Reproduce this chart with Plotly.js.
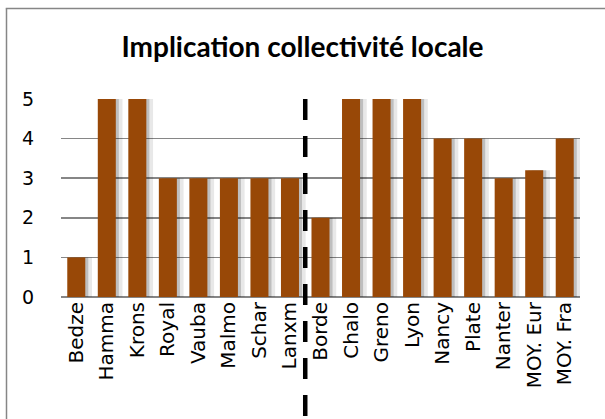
<!DOCTYPE html>
<html>
<head>
<meta charset="utf-8">
<script src="https://cdn.plot.ly/plotly-3.0.1.min.js"></script>
<style>html,body{margin:0;padding:0;background:#fff;} #chart{width:605px;height:419px;} text{font-variant-ligatures:none;}</style>
</head>
<body>
<div id="chart"></div>
<script>
const categories = ["Bedze","Hamma","Krons","Royal","Vauba","Malmo","Schar","Lanxm","Borde","Chalo","Greno","Lyon","Nancy","Plate","Nanter","MOY. Eur","MOY. Fra"];
const values = [1,5,5,3,3,3,3,3,2,5,5,5,4,4,3,3.2,4];
const yTicks = [0,1,2,3,4,5];
const chartTitle = "Implication collectivité locale";
const separatorAfter = "Lanxm";

const barW = 0.59;
const shadow1 = {type:'bar', x:categories, y:values, width:barW, offset:-barW/2+0.10,
  marker:{color:'rgba(0,0,0,0.18)'}, hoverinfo:'skip', showlegend:false};
const shadow2 = {type:'bar', x:categories, y:values, width:barW, offset:-barW/2+0.22,
  marker:{color:'rgba(0,0,0,0.09)'}, hoverinfo:'skip', showlegend:false};
const bars = {type:'bar', x:categories, y:values, width:barW, offset:-barW/2,
  marker:{color:'#984807', line:{width:0}}, showlegend:false};

const sepPaper = (categories.indexOf(separatorAfter) + 1) / categories.length;
const pxX = px => (px - 61) / 519;
const pxY = py => (297 - py) / 198;

const layout = {
  width:605, height:419,
  margin:{l:61, r:25, t:99, b:122, pad:0},
  paper_bgcolor:'#fff', plot_bgcolor:'#fff',
  barmode:'overlay',
  font:{family:'"DejaVu Sans", sans-serif', color:'#000'},
  title:{text:'<b>'+chartTitle+'</b>', x:0.5, xanchor:'center', y:1-47/419, yanchor:'middle',
    font:{family:'Lato, sans-serif', size:28, color:'#000'}},
  xaxis:{type:'category', tickangle:-90, tickfont:{size:20, family:'"DejaVu Sans", sans-serif'},
    showgrid:false, zeroline:false, showline:false, ticks:'', range:[-0.5, categories.length-0.5], fixedrange:true},
  yaxis:{range:[0,5], tickvals:yTicks, ticktext:yTicks.map(String), showgrid:true, gridcolor:'#868686', gridwidth:1.5,
    zeroline:true, zerolinecolor:'#868686', zerolinewidth:1.5, showline:false,
    ticks:'outside', ticklen:22, tickcolor:'rgba(0,0,0,0)', tickfont:{size:19, family:'"DejaVu Sans", sans-serif'}, fixedrange:true},
  shapes:[
    {type:'line', xref:'paper', yref:'paper', x0:pxX(6.5), x1:pxX(6.5), y0:pxY(8.5), y1:pxY(440),
      line:{color:'#868686', width:1.5}, layer:'below'},
    {type:'line', xref:'paper', yref:'paper', x0:pxX(5.75), x1:pxX(640), y0:pxY(8.5), y1:pxY(8.5),
      line:{color:'#868686', width:1.5}, layer:'below'},
    {type:'line', xref:'paper', yref:'paper', x0:sepPaper, x1:sepPaper, y0:1, y1:pxY(430),
      line:{color:'#000', width:4.5, dash:'21px,16px'}, layer:'above'}
  ]
};

Plotly.newPlot('chart', [shadow2, shadow1, bars], layout, {displayModeBar:false, staticPlot:true});
</script>
</body>
</html>
